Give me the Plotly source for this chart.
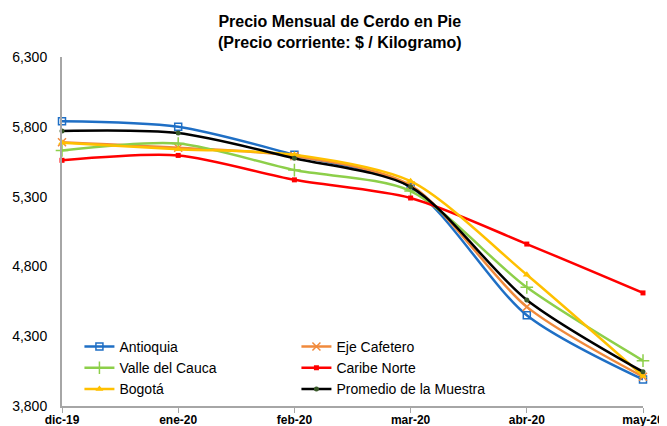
import plotly.graph_objects as go

months = ["dic-19", "ene-20", "feb-20", "mar-20", "abr-20", "may-20"]
antioquia = [5840, 5800, 5600, 5370, 4450, 3990]
eje_cafetero = [5690, 5650, 5590, 5380, 4510, 4010]
valle = [5630, 5680, 5490, 5340, 4650, 4125]
caribe = [5560, 5595, 5420, 5290, 4960, 4610]
bogota = [5685, 5640, 5600, 5410, 4740, 4015]
promedio = [5770, 5755, 5575, 5370, 4560, 4045]
y_ticks = [3800, 4300, 4800, 5300, 5800, 6300]

series = [
    ("Antioquia", antioquia, "#1F6FC5", dict(symbol="square-open", size=7, color="#1F6FC5", line=dict(width=1.5, color="#1F6FC5"))),
    ("Eje Cafetero", eje_cafetero, "#F08A3C", dict(symbol="x-thin-open", size=8, color="#F08A3C", line=dict(width=1.5, color="#F08A3C"))),
    ("Valle del Cauca", valle, "#8DCF4A", dict(symbol="cross-thin-open", size=9, color="#8DCF4A", line=dict(width=1.5, color="#8DCF4A"))),
    ("Caribe Norte", caribe, "#FF0000", dict(symbol="square", size=5, color="#FF0000")),
    ("Bogotá", bogota, "#FFC000", dict(symbol="triangle-up", size=7, color="#FFC000")),
    ("Promedio de la Muestra", promedio, "#000000", dict(symbol="circle", size=5, color="#3A5A2A")),
]

fig = go.Figure()
xs = list(range(len(months)))
for name, vals, color, marker in series:
    fig.add_trace(go.Scatter(
        x=xs, y=vals, name=name, mode="lines+markers",
        line=dict(color=color, width=2.5, shape="spline", smoothing=0.8),
        marker=marker, cliponaxis=False,
    ))

# page body has an 8px default margin, so the figure is offset by 8px
fig.add_annotation(
    text="<b>Precio Mensual de Cerdo en Pie<br>(Precio corriente: $ / Kilogramo)</b>",
    xref="paper", yref="paper", x=(340 - 62) / 581, y=(406 - 11) / 349,
    xanchor="center", yanchor="top", showarrow=False,
    font=dict(size=16, family="Liberation Sans, Arial", color="#000000"),
)

fig.update_layout(
    width=659, height=418,
    margin=dict(l=54, r=24, t=49, b=20, autoexpand=False),
    paper_bgcolor="white", plot_bgcolor="white",
    font=dict(family="Liberation Sans, Arial", color="#000000"),
    xaxis=dict(
        range=[0, 5], tickmode="array", tickvals=xs,
        ticktext=["<b>%s</b>" % m for m in months],
        showgrid=False, zeroline=False, showline=True, linecolor="#A6A6A6", linewidth=2,
        ticks="outside", ticklen=5, tickcolor="#A6A6A6", automargin=False,
        ticklabelstandoff=-3,
        tickfont=dict(size=12, family="Liberation Sans, Arial"),
    ),
    yaxis=dict(
        range=[3800, 6300], tickmode="array", tickvals=y_ticks,
        ticktext=["{:,}".format(v) for v in y_ticks],
        showgrid=False, zeroline=False, showline=True, linecolor="#A6A6A6", linewidth=2,
        ticks="", tickfont=dict(size=14, family="Liberation Sans, Arial"), ticklabelstandoff=10,
        automargin=False,
    ),
    legend=dict(
        orientation="h", x=0.03, xanchor="left", y=0.215, yanchor="top",
        entrywidth=172, entrywidthmode="pixels",
        bgcolor="rgba(0,0,0,0)", font=dict(size=14, family="Liberation Sans, Arial"),
        itemwidth=30,
    ),
    showlegend=True,
)

fig.write_html("out.html")
